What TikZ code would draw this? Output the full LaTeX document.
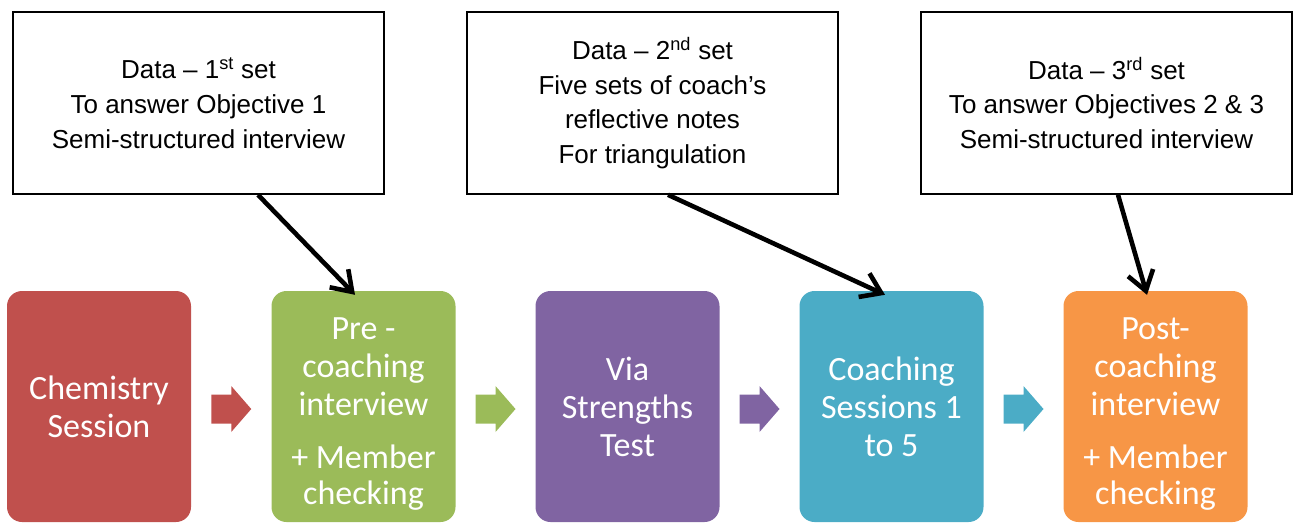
\documentclass[tikz,border=0pt]{standalone}
\usepackage{fontspec}
\setmainfont{Liberation Sans}
\newfontfamily\calibrifont{Carlito}
\usetikzlibrary{arrows.meta,calc}
\definecolor{cred}{HTML}{C0504D}
\definecolor{cgreen}{HTML}{9BBB59}
\definecolor{cpurple}{HTML}{8064A2}
\definecolor{cteal}{HTML}{4BACC6}
\definecolor{corange}{HTML}{F79646}
\begin{document}
\begin{tikzpicture}[x=1pt,y=-1pt,
  databox/.style={draw=black, line width=1.6pt, fill=white, minimum width=371pt, minimum height=182pt, align=center, font=\fontsize{26}{34.8}\selectfont, inner sep=0pt},
  stagebox/.style={rounded corners=15pt, minimum width=184pt, minimum height=231pt, text=white, align=center, font=\calibrifont\fontsize{34}{38}\selectfont, inner sep=0pt},
  conn/.style={line width=4.6pt, -{Straight Barb[length=19pt,width=26pt]}},
]
\useasboundingbox (0,0) rectangle (1293,523);

\node[databox] (t1) at (198.5,103) {Data -- 1\textsuperscript{st} set\\To answer Objective 1\\Semi-structured interview};
\node[databox] (t2) at (652.5,103) {Data -- 2\textsuperscript{nd} set\\Five sets of coach’s\\reflective notes\\For triangulation};
\node[databox] (t3) at (1106.5,103) {Data -- 3\textsuperscript{rd} set\\To answer Objectives 2 \& 3\\Semi-structured interview};

\node[stagebox, fill=cred] (A) at (99,406.5) {Chemistry\\Session};
\node[stagebox, fill=cgreen] (B) at (363.5,406.5) {\rule{0pt}{36pt}Pre -\\coaching\\interview\\[15pt]+ Member\\[-2pt]checking};
\node[stagebox, fill=cpurple] (C) at (627.5,406.5) {Via\\Strengths\\Test};
\node[stagebox, fill=cteal] (D) at (891.5,406.5) {Coaching\\Sessions 1\\to 5};
\node[stagebox, fill=corange] (E) at (1155.5,406.5) {\rule{0pt}{36pt}Post-\\coaching\\interview\\[15pt]+ Member\\[-2pt]checking};

\coordinate (ab) at ($(A.east)!0.5!(B.west)+(0,2.5)$);
\coordinate (bc) at ($(B.east)!0.5!(C.west)+(0,2.5)$);
\coordinate (cd) at ($(C.east)!0.5!(D.west)+(0,2.5)$);
\coordinate (de) at ($(D.east)!0.5!(E.west)+(0,2.5)$);
\foreach \c/\col in {ab/cred,bc/cgreen,cd/cpurple,de/cteal}{
  \fill[\col] (\c) ++(-20,-14.5) -- ++(20,0) -- ++(0,-8.5) -- ++(20,23) -- ++(-20,23) -- ++(0,-8.5) -- ++(-20,0) -- cycle;
}

\draw[conn] ([xshift=59.5pt]t1.south) -- ([xshift=-8.5pt,yshift=-4pt]B.north);
\draw[conn] ([xshift=15.5pt]t2.south) -- ([xshift=-6.5pt,yshift=-4pt]D.north);
\draw[conn] ([xshift=11.5pt]t3.south) -- ([xshift=-8.5pt,yshift=-4pt]E.north);
\end{tikzpicture}
\end{document}
